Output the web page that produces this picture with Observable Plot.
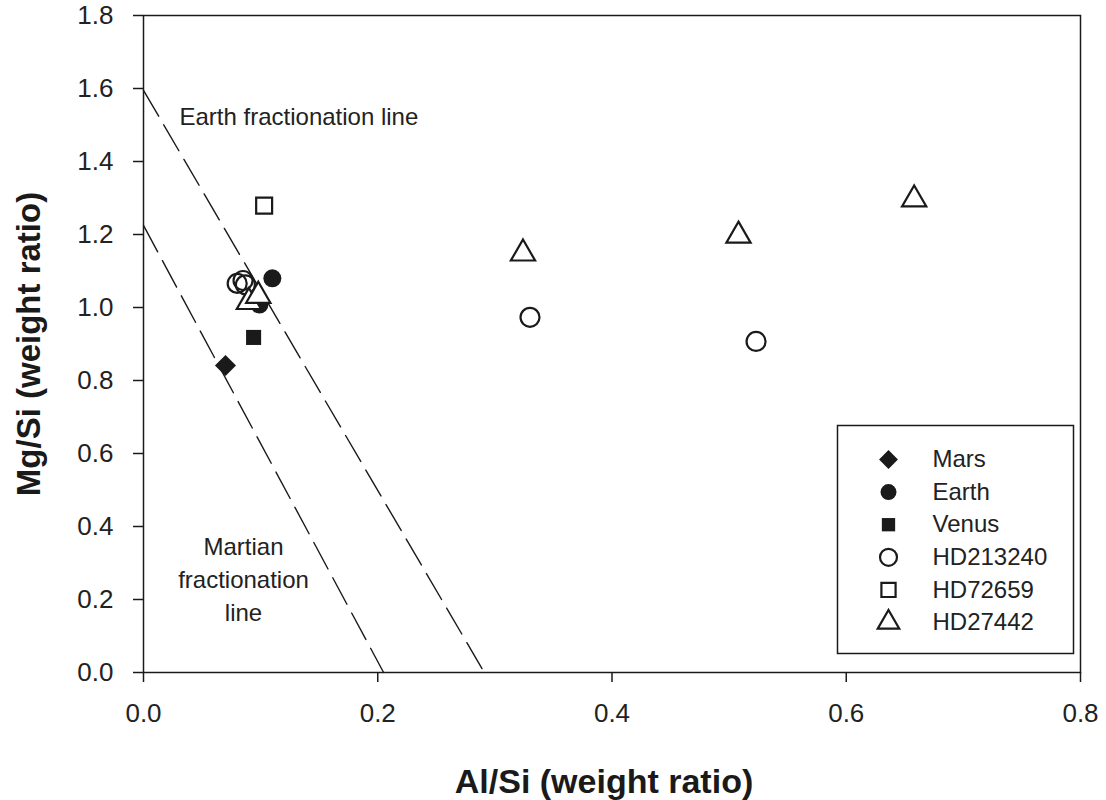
<!DOCTYPE html>
<html>
<head>
<meta charset="utf-8">
<script src="https://cdn.jsdelivr.net/npm/d3@7"></script>
<script src="https://cdn.jsdelivr.net/npm/@observablehq/plot@0.6"></script>
<style>
  body { margin: 0; background: #fff; }
  #chart svg { font-family: "Liberation Sans", Arial, sans-serif; }
</style>
</head>
<body>
<div id="chart"></div>
<script>
// ---- data ----
const marsX = [0.070];
const marsY = [0.841];
const earthX = [0.110, 0.099];
const earthY = [1.080, 1.008];
const venusX = [0.094];
const venusY = [0.918];
const hd213240X = [0.080, 0.085, 0.087, 0.330, 0.523];
const hd213240Y = [1.066, 1.074, 1.062, 0.973, 0.907];
const hd72659X = [0.103];
const hd72659Y = [1.279];
const hd27442X = [0.090, 0.098, 0.324, 0.508, 0.658];
const hd27442Y = [1.015, 1.032, 1.148, 1.197, 1.296];

const earthLineX = [0, 0.291];
const earthLineY = [1.595, 0];
const martianLineX = [0, 0.205];
const martianLineY = [1.225, 0];

const xTicks = [0, 0.2, 0.4, 0.6, 0.8];
const yTicks = [0, 0.2, 0.4, 0.6, 0.8, 1.0, 1.2, 1.4, 1.6, 1.8];

const legendNames = ["Mars", "Earth", "Venus", "HD213240", "HD72659", "HD27442"];

// ---- build ----
const zip = (xs, ys) => xs.map((x, i) => ({x, y: ys[i]}));
const ink = "#1a1a1a";

const series = [
  {name: "Mars", data: zip(marsX, marsY), symbol: "diamond2", r: 9.5, fill: ink, stroke: "none"},
  {name: "Earth", data: zip(earthX, earthY), symbol: "circle", r: 9, fill: ink, stroke: "none"},
  {name: "Venus", data: zip(venusX, venusY), symbol: "square", r: 8.5, fill: ink, stroke: "none"},
  {name: "HD213240", data: zip(hd213240X, hd213240Y), symbol: "circle", r: 9.5, fill: "none", stroke: ink},
  {name: "HD72659", data: zip(hd72659X, hd72659Y), symbol: "square", r: 9, fill: "white", stroke: ink},
  {name: "HD27442", data: zip(hd27442X, hd27442Y), symbol: "triangle", r: 9, fill: "white", stroke: ink}
];

const dotMarks = series.map(s => Plot.dot(s.data, {
  x: "x", y: "y", symbol: () => s.symbol, r: s.r, fill: s.fill, stroke: s.stroke, strokeWidth: 2.2
}));

const legendTop = 444;   // pixels from frame top for first row
const legendStep = 32.6;
const legendMarks = [];
series.forEach((s, i) => {
  const dy = legendTop + i * legendStep;
  legendMarks.push(Plot.dot([s.name], {
    frameAnchor: "top-left", dx: 745, dy, symbol: () => s.symbol, r: s.r - 1,
    fill: s.fill === "white" ? "none" : s.fill, stroke: s.stroke, strokeWidth: 2.2
  }));
  legendMarks.push(Plot.text([legendNames[i]], {
    frameAnchor: "top-left", dx: 789, dy, text: d => d, textAnchor: "start",
    lineAnchor: "middle", fontSize: 24, fill: "#222"
  }));
});

const chart = Plot.plot({
  width: 1106,
  height: 800,
  marginLeft: 143,
  marginRight: 26,
  marginTop: 15,
  marginBottom: 128,
  style: {fontFamily: "Liberation Sans, Arial, sans-serif", color: ink, background: "white"},
  x: {domain: [0, 0.8], label: null},
  y: {domain: [0, 1.8], label: null},
  marks: [
    Plot.axisX({ticks: xTicks, tickFormat: ".1f", tickSize: 10, tickPadding: 21, fontSize: 26, label: null, strokeWidth: 1.5, fill: "#222"}),
    Plot.axisY({ticks: yTicks, tickFormat: ".1f", tickSize: 10, tickPadding: 20, fontSize: 26, label: null, strokeWidth: 1.5, fill: "#222"}),
    Plot.frame({stroke: ink, strokeWidth: 1.5}),
    Plot.line(zip(earthLineX, earthLineY), {x: "x", y: "y", stroke: ink, strokeWidth: 1.4, strokeDasharray: "30,10"}),
    Plot.line(zip(martianLineX, martianLineY), {x: "x", y: "y", stroke: ink, strokeWidth: 1.4, strokeDasharray: "30,10"}),
    Plot.text(["Earth fractionation line"], {frameAnchor: "top-left", dx: 36, dy: 102, text: d => d, textAnchor: "start", lineAnchor: "middle", fontSize: 24, fill: "#222"}),
    Plot.text(["Martian\nfractionation\nline"], {frameAnchor: "top-left", dx: 100, dy: 562, text: d => d, textAnchor: "middle", lineAnchor: "middle", lineHeight: 1.36, fontSize: 24, fill: "#222"}),
    ...dotMarks,
    Plot.frame({insetLeft: 694, insetRight: 7, insetTop: 410, insetBottom: 19, stroke: ink, strokeWidth: 1.5, fill: "white"}),
    ...legendMarks,
    Plot.text(["Al/Si (weight ratio)"], {frameAnchor: "bottom", dx: -8, dy: 110, text: d => d, textAnchor: "middle", lineAnchor: "middle", fontSize: 34, fontWeight: "bold", fill: ink}),
    Plot.text(["Mg/Si (weight ratio)"], {frameAnchor: "left", dx: -114, rotate: -90, text: d => d, textAnchor: "middle", lineAnchor: "middle", fontSize: 33, fontWeight: "bold", fill: ink})
  ]
});

document.getElementById("chart").appendChild(chart);
</script>
</body>
</html>
